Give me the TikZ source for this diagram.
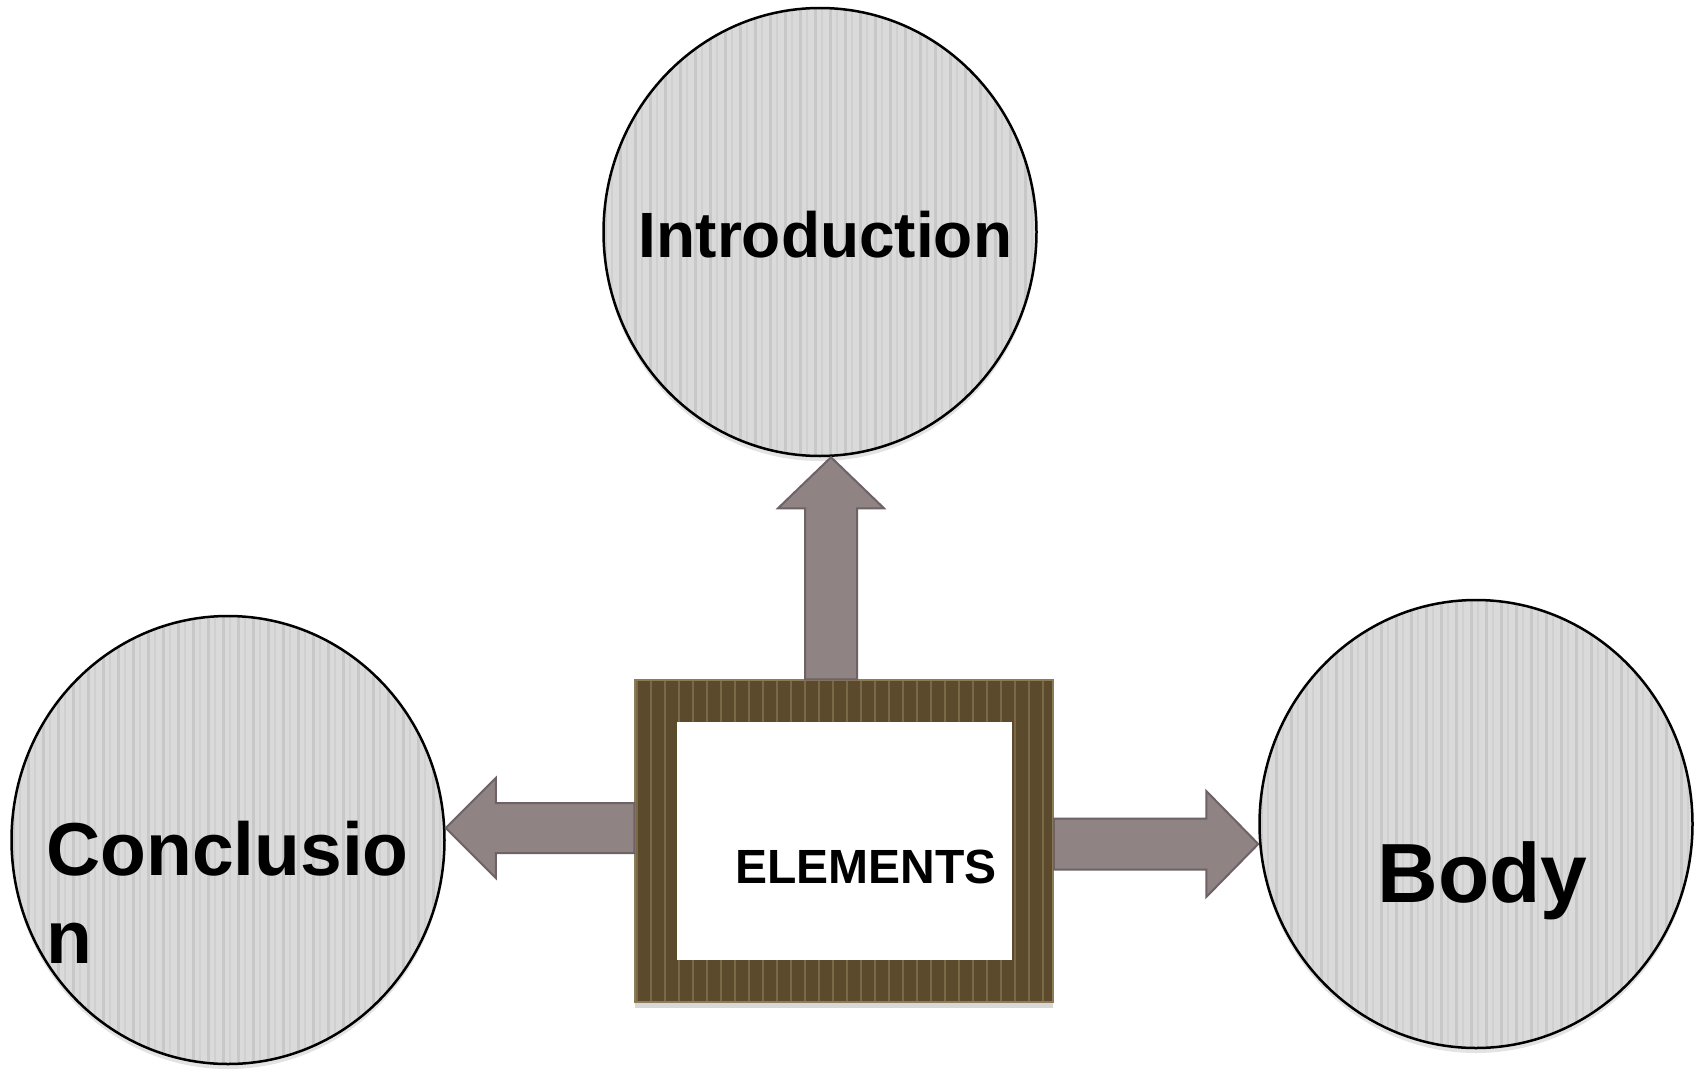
\documentclass[tikz,border=0pt]{standalone}
\usepackage{fontspec}
\setmainfont{Liberation Sans}
\usetikzlibrary{shapes.geometric,calc,shadows}
\definecolor{circfill}{HTML}{DADADA}
\definecolor{stripeA}{HTML}{C8C8C8}
\definecolor{stripeB}{HTML}{D0D0D0}
\definecolor{framefill}{HTML}{5B4A2C}
\definecolor{framestripe}{HTML}{7A6947}
\definecolor{frameborder}{HTML}{8C7B57}
\definecolor{arrowfill}{HTML}{8F8383}
\definecolor{arrowdraw}{HTML}{6E6266}
\tikzset{
  circstripes/.style={path picture={
     \foreach \k in {0,...,30}{
       \fill[stripeA] ([xshift=\k*15pt]path picture bounding box.south west) rectangle ([xshift=\k*15pt+3.3pt]path picture bounding box.north west);
       \fill[stripeB] ([xshift=\k*15pt+7.5pt]path picture bounding box.south west) rectangle ([xshift=\k*15pt+9.2pt]path picture bounding box.north west);
     }}},
  framestripes/.style={path picture={
     \foreach \k in {0,...,31}{
       \fill[framestripe] ([xshift=\k*14pt+1pt]path picture bounding box.south west) rectangle ([xshift=\k*14pt+2.8pt]path picture bounding box.north west);
     }}},
  bubble/.style={ellipse, draw=black, line width=2.5pt, fill=circfill,
     minimum width=433pt, minimum height=448pt, inner sep=0pt, circstripes,
     drop shadow={opacity=0.22, shadow xshift=0pt, shadow yshift=-5pt}},
  framebox/.style={rectangle, draw=frameborder, line width=1.5pt, fill=framefill,
     inner sep=0pt, framestripes,
     drop shadow={opacity=0.3, shadow xshift=0pt, shadow yshift=-6pt}},
  innerbox/.style={rectangle, fill=white, inner sep=0pt},
  barrow/.style={fill=arrowfill, draw=arrowdraw, line width=2pt, line join=miter},
  lbl/.style={inner sep=0pt, text=black}
}
\begin{document}
\begin{tikzpicture}[x=1pt, y=-1pt]
\useasboundingbox (0,0) rectangle (1702,1068);
\fill[white] (0,0) rectangle (1702,1068);

% circles
\node[bubble] (intro) at (820,232) {};
\node[bubble] (concl) at (228,840) {};
\node[bubble] (body) at (1476,824) {};

% frame
\node[framebox, minimum width=418pt, minimum height=322pt] (frame) at (844,841) {};
\node[innerbox, minimum width=335pt, minimum height=238pt] (inner) at (844.5,841) {};

% labels
\node[lbl, anchor=base, font=\fontsize{64}{76}\selectfont\bfseries] (introtxt) at (825.5,257) {Introduction};
\node[lbl, anchor=west, align=left, font=\fontsize{75}{88}\selectfont\bfseries] (concltxt) at (46,892.5) {Conclusio\\n};
\node[lbl, anchor=base, font=\fontsize{84}{100}\selectfont\bfseries] (bodytxt) at (1482.5,902) {Body};
\node[lbl, anchor=base, font=\fontsize{48}{57}\selectfont\bfseries] (elemtxt) at (866,883) {ELEMENTS};

% up arrow
\coordinate (ub) at ($(frame.north)+(-13,0)$);
\coordinate (ut) at (ub |- intro.south);
\draw[barrow] ($(ub)+(-26,0)$) -- ($(ut)+(-26,51)$) -- ($(ut)+(-53,51)$) -- (ut)
   -- ($(ut)+(53,51)$) -- ($(ut)+(26,51)$) -- ($(ub)+(26,0)$) -- cycle;

% left arrow
\coordinate (lb) at ($(frame.west)+(0,-13)$);
\coordinate (lt) at (concl.east |- lb);
\draw[barrow] ($(lb)+(0,-25)$) -- ($(lt)+(50,-25)$) -- ($(lt)+(50,-50)$) -- (lt)
   -- ($(lt)+(50,50)$) -- ($(lt)+(50,25)$) -- ($(lb)+(0,25)$) -- cycle;

% right arrow
\coordinate (rb) at ($(frame.east)+(0,3)$);
\coordinate (rt) at (body.west |- rb);
\draw[barrow] ($(rb)+(0,-25.5)$) -- ($(rt)+(-52,-25.5)$) -- ($(rt)+(-52,-53)$) -- (rt)
   -- ($(rt)+(-52,53)$) -- ($(rt)+(-52,25.5)$) -- ($(rb)+(0,25.5)$) -- cycle;
\end{tikzpicture}
\end{document}
